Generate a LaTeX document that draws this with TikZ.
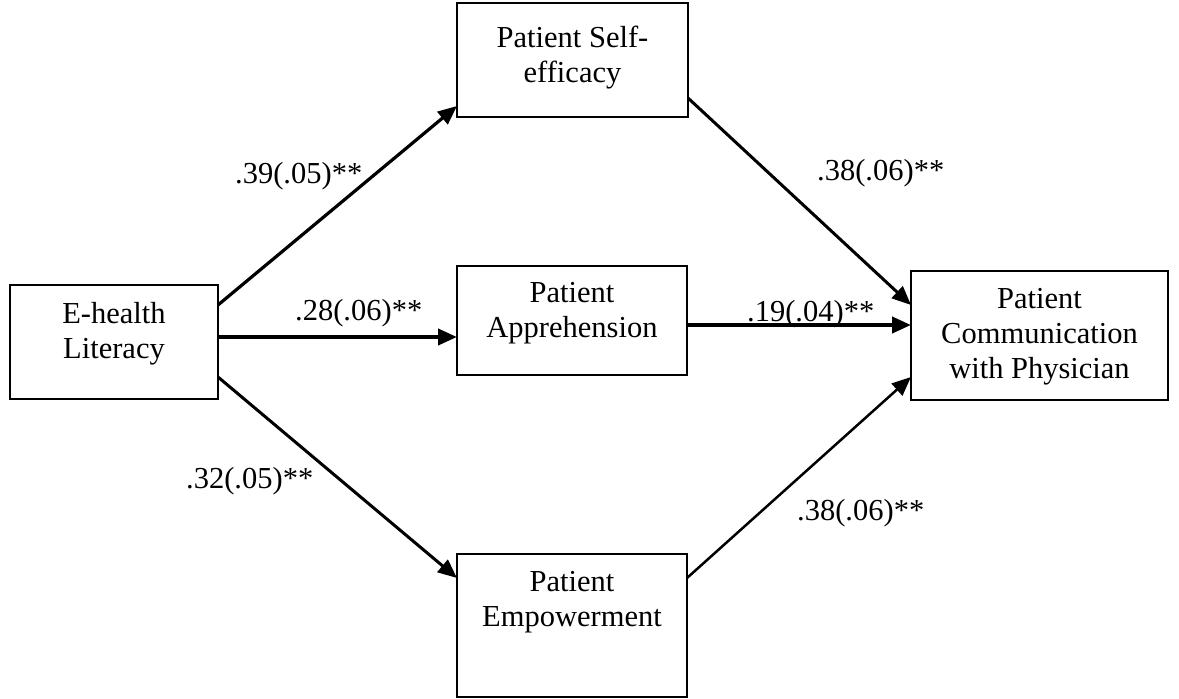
\documentclass[tikz,border=0pt]{standalone}
\usepackage{fontspec}
\setmainfont{Liberation Serif}
\usetikzlibrary{arrows.meta}
\begin{document}
\begin{tikzpicture}[x=1pt,y=-1pt,
  box/.style={draw, line width=2pt, inner sep=0pt, outer sep=0pt},
  txt/.style={align=center, inner sep=0pt, font=\fontsize{30.5}{35}\selectfont},
  lab/.style={anchor=base west, inner sep=0pt, font=\fontsize{30.5}{35}\selectfont},
  arr/.style={line width=3pt, -{Triangle[length=19pt,width=16pt]}},
]
\useasboundingbox (0,0) rectangle (1179,699);
% boxes
\node[box, minimum width=208pt, minimum height=114pt] (eh) at (114,342) {};
\node[box, minimum width=231pt, minimum height=114pt] (se) at (572.5,60) {};
\node[box, minimum width=230pt, minimum height=109pt] (ap) at (572,320.5) {};
\node[box, minimum width=230pt, minimum height=143pt] (em) at (572,625.5) {};
\node[box, minimum width=257pt, minimum height=129pt] (cm) at (1039.5,335.5) {};
% box texts
\node[txt] (eht) at ([yshift=8pt]eh.center) {E-health\\Literacy};
\node[txt] (set) at ([yshift=2.5pt]se.center) {Patient Self-\\efficacy};
\node[txt] (apt) at ([yshift=7pt]ap.center) {Patient\\Apprehension};
\node[txt] (emt) at ([yshift=23pt]em.center) {Patient\\Empowerment};
\node[txt] (cmt) at ([yshift=-1.5pt]cm.center) {Patient\\Communication\\with Physician};
% arrows
\draw[arr, line width=3.2pt] ([yshift=37pt]eh.east) -- ([yshift=-46pt]se.west);
\draw[arr, line width=4pt] ([yshift=5pt]eh.east) -- ([yshift=-16.5pt]ap.west);
\draw[arr] ([yshift=-35pt]eh.east) -- ([yshift=47.5pt]em.west);
\draw[arr] ([yshift=-38pt]se.east) -- ([yshift=30.5pt]cm.west);
\draw[arr, line width=4pt] ([yshift=-4.5pt]ap.east) -- ([yshift=10.5pt]cm.west);
\draw[arr, line width=2.5pt] ([yshift=47.5pt]em.east) -- ([yshift=-41.5pt]cm.west);
% labels
\node[lab] (l1) at (235,183) {.39(.05)**};
\node[lab] (l2) at (295,320) {.28(.06)**};
\node[lab] (l3) at (186,488) {.32(.05)**};
\node[lab] (l4) at (817,180) {.38(.06)**};
\node[lab] (l5) at (747,321) {.19(.04)**};
\node[lab] (l6) at (797,520) {.38(.06)**};
\end{tikzpicture}
\end{document}
